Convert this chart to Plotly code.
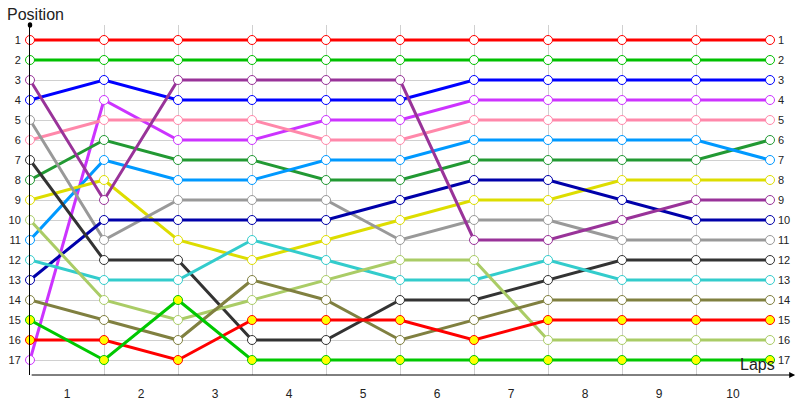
"""
Race position chart: position of each car at the end of every lap
"""

import plotly.graph_objects as go

# lap boundaries (0 = start grid) and lap labels shown between them
lap_marks = [0, 1, 2, 3, 4, 5, 6, 7, 8, 9, 10]
lap_labels = ['1', '2', '3', '4', '5', '6', '7', '8', '9', '10']
positions = list(range(1, 18))

# positions per car
red_top = [1, 1, 1, 1, 1, 1, 1, 1, 1, 1, 1]
green_top = [2, 2, 2, 2, 2, 2, 2, 2, 2, 2, 2]
blue = [4, 3, 4, 4, 4, 4, 3, 3, 3, 3, 3]
purple = [3, 9, 3, 3, 3, 3, 11, 11, 10, 9, 9]
violet = [17, 4, 6, 6, 5, 5, 4, 4, 4, 4, 4]
pink = [6, 5, 5, 5, 6, 6, 5, 5, 5, 5, 5]
dark_green = [8, 6, 7, 7, 8, 8, 7, 7, 7, 7, 6]
light_blue = [11, 7, 8, 8, 7, 7, 6, 6, 6, 6, 7]
yellow = [9, 8, 11, 12, 11, 10, 9, 9, 8, 8, 8]
grey = [5, 11, 9, 9, 9, 11, 10, 10, 11, 11, 11]
navy = [13, 10, 10, 10, 10, 9, 8, 8, 9, 10, 10]
charcoal = [7, 12, 12, 16, 16, 14, 14, 13, 12, 12, 12]
cyan = [12, 13, 13, 11, 12, 13, 13, 12, 13, 13, 13]
lime = [10, 14, 15, 14, 13, 12, 12, 16, 16, 16, 16]
olive = [14, 15, 16, 13, 14, 16, 15, 14, 14, 14, 14]
red_low = [16, 16, 17, 15, 15, 15, 16, 15, 15, 15, 15]
green_low = [15, 17, 14, 17, 17, 17, 17, 17, 17, 17, 17]

# (values, line colour, marker fill)
cars = [
    (red_top, '#ff0000', 'white'),
    (green_top, '#00c000', 'white'),
    (blue, '#0000ff', 'white'),
    (violet, '#cc33ff', 'white'),
    (pink, '#ff88aa', 'white'),
    (dark_green, '#229933', 'white'),
    (light_blue, '#0099ff', 'white'),
    (yellow, '#dddd00', 'white'),
    (grey, '#999999', 'white'),
    (navy, '#0000aa', 'white'),
    (charcoal, '#333333', 'white'),
    (cyan, '#33cccc', 'white'),
    (lime, '#aacc66', 'white'),
    (olive, '#808040', 'white'),
    (red_low, '#ff0000', '#ffff00'),
    (green_low, '#00c800', '#ffff00'),
    (purple, '#993399', 'white'),
]

fig = go.Figure()

for values, color, fill in cars:
    fig.add_trace(go.Scatter(
        x=lap_marks,
        y=values,
        mode='lines+markers',
        line=dict(color=color, width=3),
        marker=dict(size=9, color=fill, line=dict(color=color, width=1)),
        cliponaxis=False,
        showlegend=False,
        hovertemplate='Lap %{x}<br>Position %{y}<extra></extra>'
    ))

# position labels on the right side
for p in positions:
    fig.add_annotation(
        x=lap_marks[-1], y=p, text=str(p), showarrow=False,
        xanchor='left', xshift=6,
        font=dict(size=11, color='#222222', family='Liberation Sans')
    )

# x axis line with arrow head
fig.add_annotation(
    x=1.034, y=0, xref='paper', yref='paper',
    ax=-765, ay=0, axref='pixel', ayref='pixel',
    showarrow=True, arrowhead=2, arrowsize=1.2, arrowwidth=1,
    arrowcolor='black', text=''
)

fig.add_annotation(
    x=-0.034, y=1.03, xref='paper', yref='paper', text='Position',
    showarrow=False, xanchor='left', yanchor='middle',
    font=dict(size=16, color='#222222', family='Liberation Sans')
)
fig.add_annotation(
    x=1.01, y=0.03, xref='paper', yref='paper', text='Laps',
    showarrow=False, xanchor='right', yanchor='middle',
    font=dict(size=16, color='#222222', family='Liberation Sans')
)

# small dot at the top of the y axis
fig.add_shape(type='circle', xref='paper', yref='paper',
              x0=-0.003, x1=0.003, y0=0.992, y1=1.008,
              fillcolor='black', line=dict(width=0))

fig.update_layout(
    width=800,
    height=400,
    margin=dict(l=30, r=30, t=25, b=25, autoexpand=False),
    plot_bgcolor='white',
    paper_bgcolor='white',
    font=dict(family='Liberation Sans', size=11, color='#222222'),
    xaxis=dict(
        range=[0, 10],
        tickvals=[m + 0.5 for m in lap_marks[:-1]],
        ticktext=lap_labels,
        ticks='',
        showgrid=False,
        zeroline=False,
        showline=False,
        automargin=False,
        tickfont=dict(size=12),
        ticklabelstandoff=10,
        minor=dict(tickvals=lap_marks, showgrid=True,
                   gridcolor='#d0d0d0', gridwidth=1, ticks=''),
    ),
    yaxis=dict(
        range=[17.75, 0.25],
        tickvals=positions,
        ticks='',
        showgrid=True,
        gridcolor='#d0d0d0',
        gridwidth=1,
        zeroline=False,
        showline=True,
        linecolor='black',
        linewidth=1,
        automargin=False,
        ticklabelstandoff=6,
    ),
)

# the page adds a body margin by default; drop it so the chart sits at 0,0
fig.write_html("out.html", config={'displayModeBar': False},
               post_script="document.body.style.margin='0';")
